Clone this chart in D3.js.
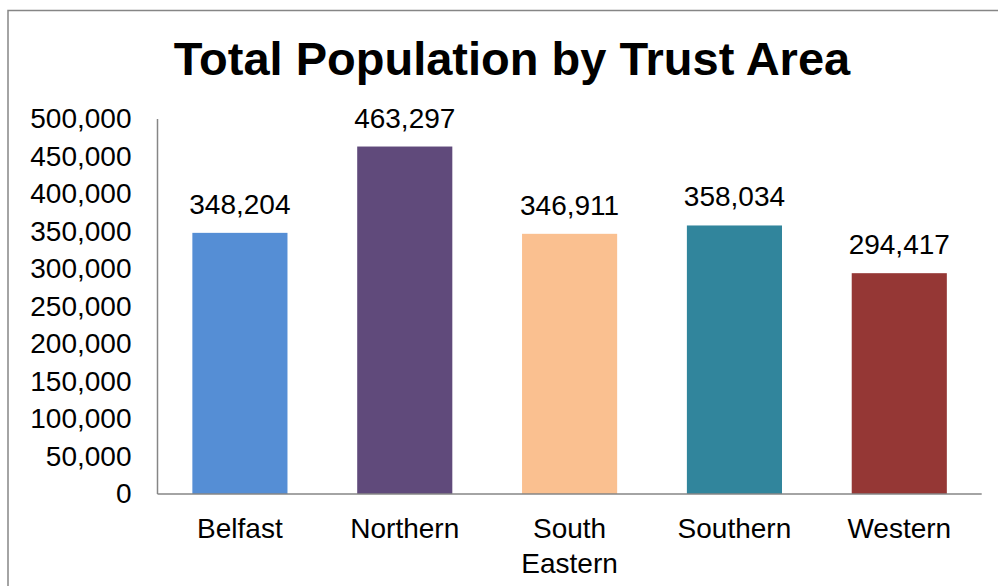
<!DOCTYPE html>
<html>
<head>
<meta charset="utf-8">
<script src="https://cdn.jsdelivr.net/npm/d3@7"></script>
<style>
  html, body { margin: 0; padding: 0; background: #fff; }
  svg { display: block; font-family: Arial, "Liberation Sans", sans-serif; }
</style>
</head>
<body>
<svg id="chart" width="998" height="586"></svg>
<script>
// Population per Health and Social Care Trust area
const categories = ["Belfast", "Northern", "South Eastern", "Southern", "Western"];
const populations = [348204, 463297, 346911, 358034, 294417];
const barColors = ["#558ED5", "#604A7B", "#FAC090", "#31859C", "#953735"];
const yTicks = [0, 50000, 100000, 150000, 200000, 250000, 300000, 350000, 400000, 450000, 500000];
const titleText = "Total Population by Trust Area";

const svg = d3.select("#chart");
const axisGray = "#868686";

// Outer chart frame
svg.append("rect")
  .attr("x", 8).attr("y", 10.5)
  .attr("width", 1100).attr("height", 700)
  .attr("fill", "none")
  .attr("stroke", axisGray)
  .attr("stroke-width", 1.5);

const plot = { left: 157.5, right: 981.7, top: 119, bottom: 494 };

const x = d3.scaleBand()
  .domain(categories)
  .range([plot.left, plot.right])
  .paddingInner(0.423)
  .paddingOuter(0.2115);

const y = d3.scaleLinear()
  .domain([0, 500000])
  .range([plot.bottom, plot.top]);

const fmt = d3.format(",");

// Title
svg.append("text")
  .attr("x", 512).attr("y", 75)
  .attr("text-anchor", "middle")
  .attr("font-size", 47)
  .attr("font-weight", "bold")
  .attr("fill", "#000")
  .text(titleText);

// Y axis (labels only, plus the axis line)
const yAxis = d3.axisLeft(y)
  .tickValues(yTicks)
  .tickFormat(fmt)
  .tickSize(0)
  .tickPadding(26);

const gy = svg.append("g")
  .attr("transform", `translate(${plot.left},0)`)
  .call(yAxis);
gy.select(".domain").remove();
gy.selectAll("text")
  .attr("font-size", 28)
  .attr("font-family", "Arial, 'Liberation Sans', sans-serif")
  .attr("fill", "#000");

svg.append("line")
  .attr("x1", plot.left).attr("x2", plot.left)
  .attr("y1", plot.top).attr("y2", plot.bottom)
  .attr("stroke", axisGray).attr("stroke-width", 1.5);

// Bars
svg.append("g").selectAll("rect")
  .data(categories)
  .join("rect")
  .attr("x", d => x(d))
  .attr("y", (d, i) => y(populations[i]))
  .attr("width", x.bandwidth())
  .attr("height", (d, i) => y(0) - y(populations[i]))
  .attr("fill", (d, i) => barColors[i]);

// X axis line
svg.append("line")
  .attr("x1", plot.left).attr("x2", plot.right)
  .attr("y1", plot.bottom).attr("y2", plot.bottom)
  .attr("stroke", axisGray).attr("stroke-width", 1.5);

// Value labels above bars
svg.append("g").selectAll("text")
  .data(categories)
  .join("text")
  .attr("x", d => x(d) + x.bandwidth() / 2)
  .attr("y", (d, i) => y(populations[i]) - 19)
  .attr("text-anchor", "middle")
  .attr("font-size", 28)
  .attr("fill", "#000")
  .text((d, i) => fmt(populations[i]));

// Category labels (wrapped onto two lines where needed)
const catLines = {
  "South Eastern": ["South", "Eastern"]
};
const catG = svg.append("g").selectAll("text")
  .data(categories)
  .join("text")
  .attr("x", d => x(d) + x.bandwidth() / 2)
  .attr("y", 538)
  .attr("text-anchor", "middle")
  .attr("font-size", 28)
  .attr("fill", "#000");
catG.each(function(d) {
  const lines = catLines[d] || [d];
  const t = d3.select(this);
  lines.forEach((ln, j) => {
    t.append("tspan")
      .attr("x", x(d) + x.bandwidth() / 2)
      .attr("dy", j === 0 ? 0 : 35)
      .text(ln);
  });
});
</script>
</body>
</html>
